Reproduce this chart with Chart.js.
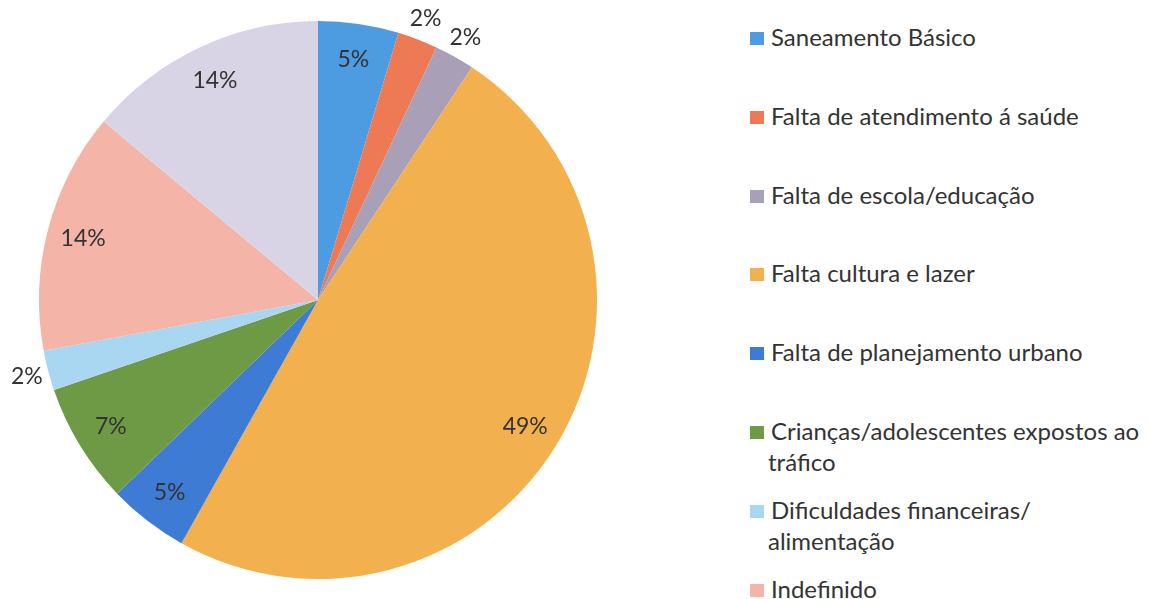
<!DOCTYPE html>
<html><head><meta charset="utf-8">
<script src="https://cdn.jsdelivr.net/npm/chart.js@4/dist/chart.umd.min.js"></script>
<style>
html,body{margin:0;padding:0;background:#fff;overflow:hidden;width:1149px;height:599px;}
#wrap{position:absolute;left:0;top:0;width:640px;height:599px;}
#legend{position:absolute;left:750px;top:21px;width:399px;font-family:Lato,"Open Sans",sans-serif;font-size:24px;color:#333;}
.item{line-height:31px;height:78.8px;padding-left:18px;}
.box{display:inline-block;width:14px;height:13px;margin-left:-18px;margin-right:7px;vertical-align:1px;}
</style></head>
<body>
<div id="wrap"><canvas id="c"></canvas></div>
<div id="legend"></div>
<script>
const categories = [
  "Saneamento Básico",
  "Falta de atendimento á saúde",
  "Falta de escola/educação",
  "Falta cultura e lazer",
  "Falta de planejamento urbano",
  "Crianças/adolescentes expostos ao tráfico",
  "Dificuldades financeiras/ alimentação",
  "Indefinido",
  "Outros"
];
const counts = [2, 1, 1, 21, 2, 3, 1, 6, 6];
const colors = ["#4d9be0","#ee7a55","#a99fb6","#f2b04e","#3d7bd4","#6f9a45","#a9d6f1","#f4b4a8","#d9d3e6"];

const labelPlugin = {
  id:'pctLabels',
  afterDatasetsDraw(chart){
    const ctx = chart.ctx;
    const meta = chart.getDatasetMeta(0);
    const total = counts.reduce((a,b)=>a+b,0);
    ctx.save();
    ctx.font = '23px Lato, "Open Sans", sans-serif';
    ctx.fillStyle = '#333';
    ctx.textAlign = 'center';
    ctx.textBaseline = 'middle';
    meta.data.forEach((arc,i)=>{
      const p = arc.getProps(['x','y','startAngle','endAngle','outerRadius'],true);
      const pct = counts[i]/total*100;
      const mid = (p.startAngle+p.endAngle)/2;
      const r = pct < 3 ? p.outerRadius + 22 : p.outerRadius*0.87;
      ctx.fillText(Math.round(pct)+'%', p.x + Math.cos(mid)*r, p.y + Math.sin(mid)*r);
    });
    ctx.restore();
  }
};

new Chart(document.getElementById('c'), {
  type:'pie',
  data:{labels:categories, datasets:[{data:counts, backgroundColor:colors, borderWidth:0, hoverOffset:0}]},
  options:{
    responsive:true, maintainAspectRatio:false, animation:false,
    layout:{padding:{left:39,right:43,top:21,bottom:20}},
    plugins:{legend:{display:false}, tooltip:{enabled:false}}
  },
  plugins:[labelPlugin]
});

const lg = document.getElementById('legend');
categories.forEach((c,i)=>{
  const d = document.createElement('div'); d.className='item';
  const b = document.createElement('span'); b.className='box'; b.style.background=colors[i];
  d.appendChild(b); d.appendChild(document.createTextNode(c));
  lg.appendChild(d);
});
</script>
</body></html>
